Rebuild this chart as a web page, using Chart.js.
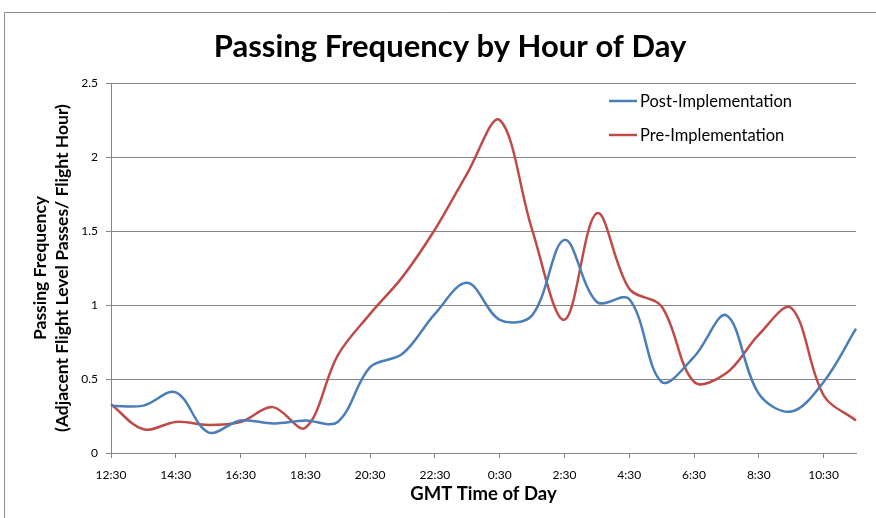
<!DOCTYPE html>
<html lang="en">
<head>
<meta charset="UTF-8">
<title>Passing Frequency by Hour of Day</title>
<script src="https://cdn.jsdelivr.net/npm/chart.js"></script>
<style>
  body { margin: 0; background: #fff; }
  canvas { display: block; }
</style>
</head>
<body>
<canvas id="freqChart" width="876" height="518"></canvas>
<script>
// hourly categories, GMT (only every second one gets a label)
const hours = ['12:30', '13:30', '14:30', '15:30', '16:30', '17:30', '18:30', '19:30',
  '20:30', '21:30', '22:30', '23:30', '0:30', '1:30', '2:30', '3:30',
  '4:30', '5:30', '6:30', '7:30', '8:30', '9:30', '10:30', '11:30'];

const postImpl = [0.32, 0.32, 0.41, 0.14, 0.22, 0.20, 0.22, 0.21,
  0.58, 0.67, 0.94, 1.15, 0.90, 0.93, 1.44, 1.02,
  1.04, 0.48, 0.65, 0.93, 0.40, 0.28, 0.48, 0.84];

const preImpl = [0.33, 0.16, 0.21, 0.19, 0.21, 0.31, 0.17, 0.66,
  0.94, 1.19, 1.51, 1.89, 2.25, 1.51, 0.90, 1.62,
  1.11, 0.99, 0.48, 0.54, 0.80, 0.98, 0.39, 0.22];

const seriesNames = ['Post-Implementation', 'Pre-Implementation'];
const seriesColors = ['#4A7EBB', '#BE4B48'];
const chartTitle = 'Passing Frequency by Hour of Day';

const FONT = 'Lato, "Open Sans", sans-serif';
const AXIS_GRAY = '#868686';

// outer frame like the Excel chart border + the main title
const framePlugin = {
  id: 'frame',
  beforeDraw(chart) {
    const ctx = chart.ctx;
    ctx.save();
    ctx.strokeStyle = '#8c8c8c';
    ctx.lineWidth = 1;
    ctx.beginPath();
    ctx.moveTo(4.5, 518);
    ctx.lineTo(4.5, 12.5);
    ctx.lineTo(876, 12.5);
    ctx.stroke();

    ctx.fillStyle = '#000';
    ctx.font = 'bold 31px ' + FONT;
    ctx.textAlign = 'center';
    ctx.textBaseline = 'alphabetic';
    ctx.fillText(chartTitle, 450, 57);
    ctx.restore();
  }
};

// legend sitting in the upper right of the plot
const legendPlugin = {
  id: 'insideLegend',
  afterDatasetsDraw(chart) {
    const ctx = chart.ctx;
    ctx.save();
    ctx.font = '16.5px ' + FONT;
    ctx.textBaseline = 'middle';
    ctx.textAlign = 'left';
    chart.data.datasets.forEach((ds, i) => {
      const y = 101 + i * 34;
      ctx.strokeStyle = ds.borderColor;
      ctx.lineWidth = 2.5;
      ctx.beginPath();
      ctx.moveTo(609, y);
      ctx.lineTo(637, y);
      ctx.stroke();
      ctx.fillStyle = '#000';
      ctx.fillText(ds.label, 640, y + 1);
    });
    ctx.restore();
  }
};

const ctx = document.getElementById('freqChart').getContext('2d');
const chart = new Chart(ctx, {
  type: 'line',
  data: {
    labels: hours,
    datasets: [{
      label: seriesNames[0],
      data: postImpl,
      borderColor: seriesColors[0],
      borderWidth: 2.5,
      pointRadius: 0,
      tension: 0.35,
      fill: false
    }, {
      label: seriesNames[1],
      data: preImpl,
      borderColor: seriesColors[1],
      borderWidth: 2.5,
      pointRadius: 0,
      tension: 0.35,
      fill: false
    }]
  },
  options: {
    responsive: false,
    animation: false,
    layout: { padding: { left: 0, right: 20, top: 83, bottom: 0 } },
    plugins: {
      legend: { display: false },
      tooltip: { enabled: false },
      title: { display: false }
    },
    scales: {
      x: {
        offset: false,
        afterFit(scale) { scale.height = 65; },
        grid: {
          drawOnChartArea: false,
          tickLength: 5,
          tickColor: (c) => (c.index % 2 === 0 ? AXIS_GRAY : 'rgba(0,0,0,0)')
        },
        border: { color: AXIS_GRAY, width: 1 },
        ticks: {
          autoSkip: false,
          maxRotation: 0,
          color: '#000',
          padding: 10,
          font: { family: FONT, size: 12 },
          callback: (v, i) => (i % 2 === 0 ? hours[i] : '')
        },
        title: {
          display: true,
          text: 'GMT Time of Day',
          color: '#000',
          font: { family: FONT, size: 18.5, weight: 'bold', lineHeight: 1.2 },
          padding: { top: 0, bottom: 13 }
        }
      },
      y: {
        min: 0,
        max: 2.5,
        afterFit(scale) { scale.width = 111; },
        grid: { color: AXIS_GRAY, tickLength: 5, tickColor: AXIS_GRAY },
        border: { color: AXIS_GRAY, width: 1 },
        ticks: {
          stepSize: 0.5,
          color: '#000',
          padding: 8,
          font: { family: FONT, size: 12 },
          callback: (v) => String(v)
        },
        title: {
          display: true,
          text: ['Passing Frequency', '(Adjacent Flight Level Passes/ Flight Hour)'],
          color: '#000',
          font: { family: FONT, size: 17.5, weight: 'bold', lineHeight: '22px' },
          padding: { top: 29, bottom: 0 }
        }
      }
    }
  },
  plugins: [framePlugin, legendPlugin]
});
</script>
</body>
</html>
